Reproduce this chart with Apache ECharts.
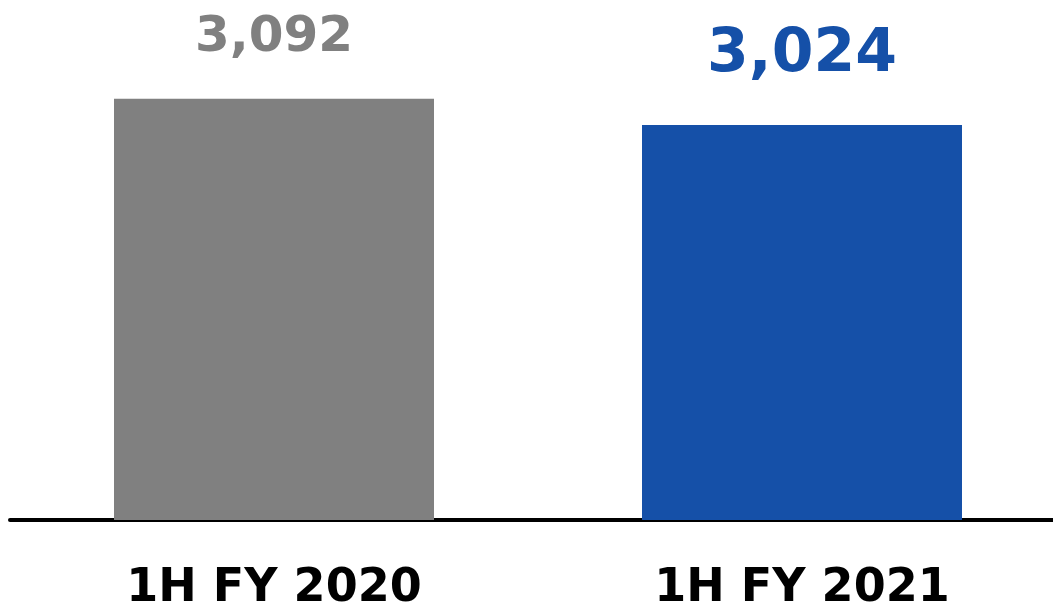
<!DOCTYPE html>
<html>
<head>
<meta charset="utf-8">
<style>
  html, body { margin: 0; padding: 0; background: #fff; overflow: hidden; width: 1053px; height: 612px; }
  #chart { width: 1066px; height: 612px; }
</style>
<script src="https://cdn.jsdelivr.net/npm/echarts@6/dist/echarts.min.js"></script>
</head>
<body>
<div id="chart"></div>
<script>
// Half-year figures
const periods = ['1H FY 2020', '1H FY 2021'];
const values = [3092, 3024];
const barColors = ['#808080', '#1550a8'];
const labelColors = ['#808080', '#1550a8'];
const labelSizes = [50, 60];
const labelGaps = [36, 40];

const chart = echarts.init(document.getElementById('chart'));
const font = '"DejaVu Sans", Verdana, sans-serif';

chart.setOption({
  animation: false,
  grid: { left: 10, right: 0, top: 57, bottom: 91 },
  xAxis: {
    type: 'category',
    data: periods,
    axisLine: { lineStyle: { color: '#000', width: 4 } },
    axisTick: { show: false },
    axisLabel: {
      margin: 46,
      color: '#000',
      fontFamily: font,
      fontWeight: 'bold',
      fontSize: 46
    }
  },
  yAxis: {
    type: 'value',
    min: 2000,
    max: 3200,
    show: false,
    splitLine: { show: false }
  },
  series: [{
    type: 'bar',
    barWidth: 320,
    data: values.map((v, i) => ({
      value: v,
      itemStyle: { color: barColors[i] },
      label: {
        show: true,
        position: 'top',
        distance: labelGaps[i],
        formatter: p => p.value.toLocaleString('en-US'),
        color: labelColors[i],
        fontFamily: font,
        fontWeight: 'bold',
        fontSize: labelSizes[i]
      }
    }))
  }]
});
</script>
</body>
</html>
